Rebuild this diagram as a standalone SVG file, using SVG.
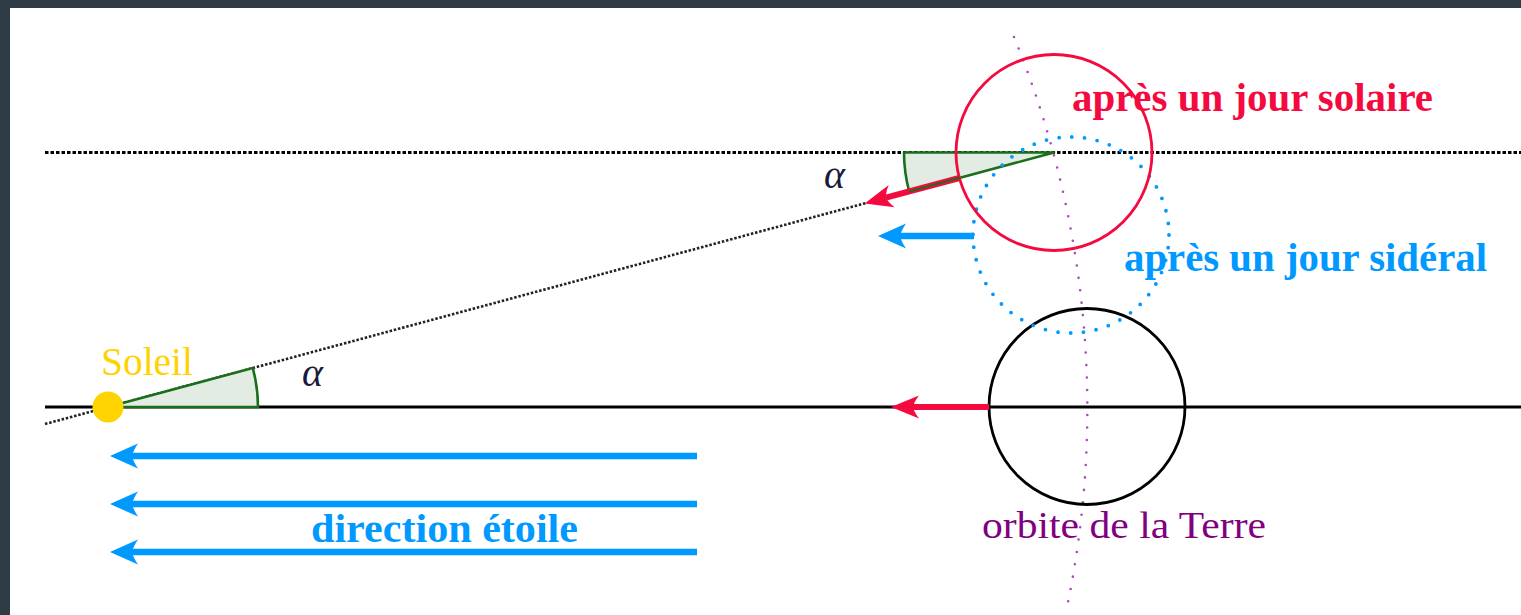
<svg xmlns="http://www.w3.org/2000/svg" width="1521" height="615" viewBox="0 0 1521 615">
<style>
.serif{font-family:"Liberation Serif","DejaVu Serif",serif}
.bold{font-weight:bold}
.lbl{font-size:40px}
.wedge{fill:#e2ece2;stroke:#1b6e1b;stroke-width:2.6;stroke-linejoin:round}
.arrB{stroke:#0099ff;stroke-width:6.5;fill:none}
.arrR{stroke:#f50a3f;stroke-width:6;fill:none}
</style>
<defs>
<marker id="hB" markerUnits="userSpaceOnUse" markerWidth="40" markerHeight="40" viewBox="-10 -20 40 40" refX="0" refY="0" orient="auto" overflow="visible">
<path d="M22,0 L-6,-12.5 Q-1,-5 0,0 Q-1,5 -6,12.5 Z" fill="#0099ff"/>
</marker>
<marker id="hR" markerUnits="userSpaceOnUse" markerWidth="40" markerHeight="40" viewBox="-10 -20 40 40" refX="0" refY="0" orient="auto" overflow="visible">
<path d="M22,0 L-6,-11.5 Q-1,-5 0,0 Q-1,5 -6,11.5 Z" fill="#f50a3f"/>
</marker>
</defs>
<rect x="0" y="0" width="1521" height="615" fill="#2f3b45"/>
<rect x="10" y="8" width="1511" height="607" fill="#ffffff"/>

<g id="reference-lines">
<line x1="45" y1="152.5" x2="1521" y2="152.5" stroke="#000" stroke-width="3" stroke-dasharray="3.5 2"/>
<line x1="45" y1="407" x2="1521" y2="407" stroke="#000" stroke-width="3"/>
<line x1="45" y1="424" x2="866" y2="203" stroke="#222" stroke-width="2.6" stroke-dasharray="2.5 1.8"/>
</g>

<g id="orbit">
<path d="M1014,37 A979,979 0 0 1 1066,612" fill="none" stroke="#a84bb8" stroke-width="2.6" stroke-linecap="round" stroke-dasharray="0 12.5"/>
</g>

<g id="angle-sun">
<path class="wedge" d="M108,407 L258,407 A150,150 0 0 0 252.8,368 Z"/>
</g>
<g id="angle-top">
<path class="wedge" d="M1054,152.5 L904,152.5 A150,150 0 0 0 909.2,191.5 Z"/>
</g>

<g id="earth-now">
<circle cx="1087" cy="406.5" r="98" fill="none" stroke="#000" stroke-width="2.8"/>
</g>
<g id="earth-sidereal">
<circle cx="1071" cy="235" r="98" fill="none" stroke="#0099ff" stroke-width="3.8" stroke-linecap="round" stroke-dasharray="0 12.83"/>
</g>
<g id="earth-solar">
<circle cx="1054" cy="152.5" r="98" fill="none" stroke="#f50a3f" stroke-width="2.8"/>
</g>

<g id="connectors">
<line class="arrR" x1="989" y1="407" x2="913" y2="407" marker-end="url(#hR)"/>
<line class="arrR" x1="959.4" y1="178" x2="885.9" y2="197.7" marker-end="url(#hR)"/>
<line x1="909.2" y1="191.5" x2="960" y2="177.8" stroke="#1b6e1b" stroke-width="2.2"/>
<line class="arrB" x1="974" y1="236" x2="900" y2="236" marker-end="url(#hB)"/>
<line class="arrB" x1="697" y1="456" x2="132" y2="456" marker-end="url(#hB)"/>
<line class="arrB" x1="697" y1="504" x2="132" y2="504" marker-end="url(#hB)"/>
<line class="arrB" x1="697" y1="552" x2="132" y2="552" marker-end="url(#hB)"/>
</g>

<g id="sun">
<circle cx="108" cy="407" r="15.5" fill="#ffd300"/>
<text class="serif" x="101" y="375" font-size="40" fill="#ffd300" textLength="92" lengthAdjust="spacingAndGlyphs">Soleil</text>
</g>

<g id="labels">
<text class="serif bold lbl" x="1072" y="111" fill="#f50a3f" textLength="361" lengthAdjust="spacingAndGlyphs">après un jour solaire</text>
<text class="serif bold lbl" x="1124" y="271" fill="#0099ff" textLength="363" lengthAdjust="spacingAndGlyphs">après un jour sidéral</text>
<text class="serif bold lbl" x="311" y="542" fill="#0099ff" textLength="267" lengthAdjust="spacingAndGlyphs">direction étoile</text>
<text class="serif" x="982" y="538" font-size="38" fill="#800080" textLength="284" lengthAdjust="spacingAndGlyphs">orbite de la Terre</text>
<text class="serif" x="824" y="188" font-size="40" font-style="italic" fill="#1a1a3a">α</text>
<text class="serif" x="302" y="386" font-size="40" font-style="italic" fill="#1a1a3a">α</text>
</g>
</svg>
